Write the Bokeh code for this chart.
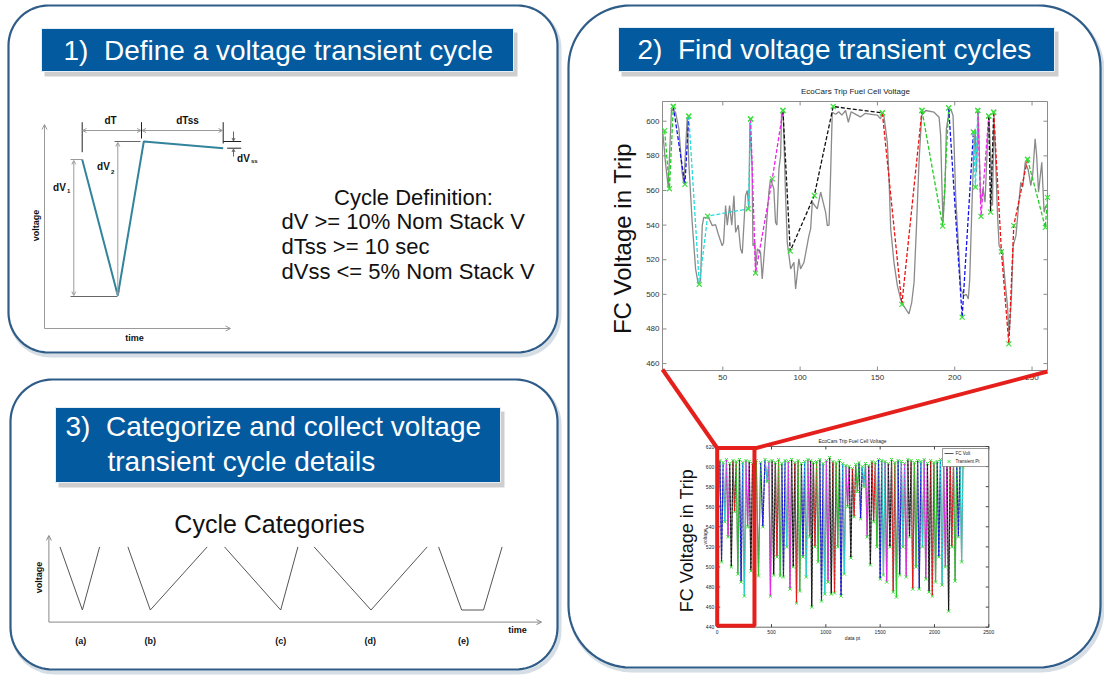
import numpy as np
from bokeh.plotting import figure
from bokeh.models import Range1d, Arrow, OpenHead
from bokeh.embed import file_html
from bokeh.resources import INLINE
from bokeh.core.properties import value

FONT = value("Liberation Sans")
NB = "\u00a0"

# ---------------- data: zoomed trip chart (panel 2, top) ----------------
trip_x = [11, 12.9, 14.7, 16.8, 19.4, 21.6, 23.7, 24.8, 27, 28,
          30.2, 32.4, 34.1, 35.6, 36.7, 37.7, 41, 43.2, 45.3, 47,
          49.6, 50.5, 51.8, 52.9, 54.4, 55.8, 57.2, 58.3, 60, 61.5,
          62.6, 64.7, 65.8, 66.9, 67.5, 68.9, 69.5, 70.8, 71.2, 72.3,
          74.4, 75.5, 77.7, 79.8, 80.9, 83, 84.1, 85, 86.3, 87.4,
          88, 89.1, 90.6, 91.7, 93.9, 96, 97.1, 99.2, 100.3, 102.5,
          105.7, 106.8, 107.9, 111.1, 113.3, 116.5, 117.6, 118.7, 119.7, 120.8,
          123, 125, 127, 129.4, 131.2, 133, 136, 139, 142, 146,
          150, 152, 153.2, 154.2, 156.4, 157.5, 158.6, 160.7, 162.9, 165,
          167.2, 170.4, 172.2, 173.7, 175.2, 176.9, 178.6, 181.2, 186.6, 189.9,
          190.9, 191.6, 192.4, 193.7, 194.6, 196.3, 197.4, 198.9, 199.6, 200.6,
          202.4, 203.9, 206, 207.5, 208.8, 209.7, 211, 212.1, 213.2, 214.1,
          215.2, 216.8, 218.3, 219.6, 221.1, 222.2, 223.3, 224.4, 225.4, 226.5,
          227.6, 228.7, 230.9, 232.6, 234.1, 235.2, 236.7, 237.8, 239.6, 241.3,
          242.7, 244, 245.6, 247.5, 249.2, 250.5, 252, 253, 254.2, 256.3,
          257.8, 258.9]
trip_v = [595.6, 576.3, 561.8, 607.2, 605.2, 595.6, 570.5, 563.8, 602.3, 576.3,
          541.6, 514.7, 506.0, 507.9, 539.7, 544.5, 544.0, 539.7, 540.3, 535.0,
          528.1, 530.0, 551.3, 540.0, 551.3, 540.0, 557.0, 535.8, 540.0, 526.2,
          523.6, 557.0, 560.0, 549.4, 599.4, 575.0, 528.0, 530.0, 514.8, 526.2,
          524.3, 508.9, 533.9, 559.0, 566.7, 561.0, 541.6, 540.0, 572.5, 580.2,
          605.2, 603.3, 557.0, 530.0, 514.7, 518.5, 503.1, 520.5, 514.7, 518.5,
          533.9, 537.8, 553.2, 549.4, 559.0, 547.4, 539.7, 540.0, 568.6, 605.2,
          604.0, 605.5, 603.5, 606.2, 599.4, 605.5, 604.0, 602.5, 604.5, 604.0,
          603.5, 601.4, 605.2, 603.0, 587.9, 566.7, 537.8, 518.5, 505.0, 497.3,
          493.0, 488.7, 495.4, 506.9, 537.8, 576.3, 603.3, 606.2, 605.2, 602.3,
          591.7, 566.7, 541.6, 561.0, 595.6, 605.2, 607.2, 603.3, 586.0, 557.0,
          528.1, 503.1, 499.2, 500.0, 497.3, 508.9, 547.4, 576.3, 595.6, 570.5,
          605.2, 553.2, 561.0, 553.2, 586.0, 603.3, 576.3, 551.3, 603.3, 576.3,
          547.4, 528.1, 524.3, 506.9, 493.5, 476.1, 499.2, 528.1, 533.9, 551.3,
          564.7, 562.0, 576.3, 572.0, 562.8, 570.0, 589.8, 580.0, 559.0, 576.3,
          547.4, 551.3]

cycle_x = [[12.4, 15.5, 18.0],
           [18.0, 25.5, 28.0],
           [28.0, 34.8, 40.2, 66.5, 68.0],
           [68.0, 71.2, 82.0, 88.9],
           [88.9, 93.6, 109.2, 121.4, 153.2],
           [153.2, 165.8, 178.8],
           [178.8, 192.2, 196.1],
           [196.1, 204.8, 212.1],
           [212.1, 213.4, 214.9],
           [214.9, 217.0, 222.0],
           [222.0, 223.2, 225.2],
           [225.2, 230.2, 235.0, 238.2, 247.1],
           [247.1, 258.6, 260.0]]
cycle_v = [[594.6, 561.0, 608.5],
           [608.5, 563.5, 602.9],
           [602.9, 505.8, 545.2, 549.4, 601.3],
           [601.3, 512.3, 566.7, 606.2],
           [606.2, 525.0, 557.1, 608.5, 604.8],
           [604.8, 494.2, 606.2],
           [606.2, 539.4, 607.7],
           [607.7, 486.8, 593.7],
           [593.7, 561.9, 606.2],
           [606.2, 545.0, 603.0],
           [603.0, 547.5, 605.2],
           [605.2, 524.6, 471.4, 539.7, 578.0],
           [578.0, 538.7, 556.0]]
cycle_colors = ["#22cc22", "#1010ee", "#22dddd", "#ee22ee", "#111111", "#ee1111"]
trip_xticks = [50, 100, 150, 200, 250]
trip_yticks = [460, 480, 500, 520, 540, 560, 580, 600]

# ---------------- data: full trip chart (panel 2, bottom) ----------------
full_top_x = [0, 25, 55, 85, 115, 145, 175, 205, 235, 265,
              295, 325, 360, 400, 440, 475, 505, 535, 565, 595,
              625, 655, 685, 715, 745, 775, 805, 835, 860, 885,
              915, 945, 975, 1005, 1035, 1065, 1095, 1125, 1155, 1185,
              1215, 1245, 1275, 1305, 1335, 1365, 1395, 1425, 1455, 1485,
              1515, 1545, 1575, 1605, 1635, 1665, 1695, 1725, 1755, 1785,
              1815, 1845, 1875, 1905, 1935, 1965, 1995, 2025, 2055, 2085,
              2115, 2145, 2175, 2205, 2235, 2262]
full_top_v = [598, 606, 604, 607, 603, 606, 605, 607, 604, 606,
              605, 603, 606, 604, 607, 605, 606, 604, 607, 603,
              606, 605, 607, 604, 606, 603, 605, 607, 606, 604,
              605, 607, 603, 606, 609, 605, 604, 606, 603, 601,
              600, 598, 602, 604, 600, 603, 601, 605, 604, 607,
              606, 605, 603, 607, 604, 606, 605, 603, 607, 606,
              604, 606, 605, 607, 603, 606, 604, 605, 607, 603,
              606, 604, 605, 603, 606, 600]
full_low_x = [10, 40, 70, 100, 130, 160, 190, 220, 250, 280,
              310, 340, 380, 420, 460, 490, 520, 550, 580, 610,
              640, 670, 700, 730, 760, 790, 820, 850, 870, 900,
              930, 960, 990, 1020, 1050, 1080, 1110, 1140, 1170, 1200,
              1230, 1260, 1290, 1320, 1350, 1380, 1410, 1440, 1470, 1500,
              1530, 1560, 1590, 1620, 1650, 1680, 1710, 1740, 1770, 1800,
              1830, 1860, 1890, 1920, 1950, 1980, 2010, 2040, 2070, 2100,
              2130, 2160, 2190, 2220, 2250]
full_low_v = [560, 505, 545, 530, 500, 555, 493, 485, 471, 540,
              496, 560, 491, 540, 585, 471, 492, 510, 491, 490,
              520, 478, 500, 464, 476, 510, 490, 530, 460, 520,
              505, 466, 473, 485, 473, 474, 520, 471, 493, 560,
              509, 550, 575, 548, 580, 530, 502, 545, 520, 488,
              492, 485, 520, 475, 470, 492, 520, 490, 530, 478,
              500, 478, 520, 488, 475, 471, 485, 510, 482, 500,
              456, 520, 486, 530, 505]
full_xticks = [0, 500, 1000, 1500, 2000, 2500]
full_yticks = [440, 460, 480, 500, 520, 540, 560, 580, 600, 620]
zoom_window = [0, 343, 441.5, 618.5]  # left, right, bottom, top (data units)

# ---------------- schematic content ----------------
definition_lines = ["dV >= 10% Nom Stack V", "dTss >= 10 sec", "dVss <= 5% Nom Stack V"]
category_labels = ["(a)", "(b)", "(c)", "(d)", "(e)"]

# ---------------- canvas ----------------
WID, HEI = 1104, 676
X0, X1, Y0, Y1 = 0, WID, 0, HEI
p = figure(width=WID, height=HEI, x_range=Range1d(X0, X1), y_range=Range1d(Y1, Y0),
           x_axis_type=None, y_axis_type=None, toolbar_location=None,
           output_backend="svg", min_border=0, outline_line_color=None,
           background_fill_color="white", border_fill_color="white")
p.min_border_left = p.min_border_right = p.min_border_top = p.min_border_bottom = 0


def sub(name, a, b, T, B, d0, d1, y0, y1):
    kx = (d1 - d0) / (b - a)
    ky = (y1 - y0) / (T - B)
    p.extra_x_ranges[name] = Range1d(d0 + (X0 - a) * kx, d0 + (X1 - a) * kx)
    p.extra_y_ranges[name] = Range1d(y0 + (Y1 - B) * ky, y0 + (Y0 - B) * ky)
    return kx, -ky


def txt(x, y, s, size, color="#111111", align="left", baseline="middle",
        angle=0.0, bold=False, rng=None):
    kw = dict(x_range_name=rng, y_range_name=rng) if rng else {}
    xs = x if isinstance(x, list) else [x]
    ys = y if isinstance(y, list) else [y]
    ss = s if isinstance(s, list) else [s]
    p.text(x=xs, y=ys, text=ss, text_font=FONT, text_font_size=f"{size}px",
           text_color=color, text_align=align, text_baseline=baseline,
           angle=angle, text_font_style="bold" if bold else "normal", **kw)


def rrect(x0, y0, x1, y1, r):
    xs, ys = [], []
    corners = [(x1 - r, y0 + r, -np.pi / 2, 0.0), (x1 - r, y1 - r, 0.0, np.pi / 2),
               (x0 + r, y1 - r, np.pi / 2, np.pi), (x0 + r, y0 + r, np.pi, 1.5 * np.pi)]
    for cx, cy, a0, a1 in corners:
        t = np.linspace(a0, a1, 20)
        xs.extend(list(cx + r * np.cos(t)))
        ys.extend(list(cy + r * np.sin(t)))
    return xs, ys


# panels
for (x0, y0, x1, y1, r) in [(8, 5, 557, 352, 40), (10, 379, 557, 669, 42), (568, 5, 1100, 667, 62)]:
    xs, ys = rrect(x0, y0, x1, y1, r)
    p.patch([v + 2 for v in xs], [v + 3 for v in ys], fill_color=None,
            line_color="#b9c6d3", line_width=4, line_alpha=0.6)
    p.patch(xs, ys, fill_color="white", line_color="#2f5d88", line_width=2.2)

# title boxes
for (l, r_, t, b) in [(41, 513, 28, 71), (618, 1054, 27, 71), (55, 500, 407, 482)]:
    p.quad(left=l + 3, right=r_ + 4, top=t + 4, bottom=b + 5, fill_color="#c2c2c2",
           fill_alpha=0.8, line_color=None)
    p.quad(left=l, right=r_, top=t, bottom=b, fill_color="#045a9e", line_color="#e8eef5",
           line_width=1)
txt(63, 50, "1)" + NB + " Define a voltage transient cycle", 28, color="white")
txt(637, 49, "2)" + NB + " Find voltage transient cycles", 28, color="white")
txt(65, 426, "3)" + NB + " Categorize and collect voltage", 28, color="white")
txt(107, 461, "transient cycle details", 28, color="white")

# ---------------- panel 1 schematic ----------------
ax_col = "#9a9a9a"
p.add_layout(Arrow(end=OpenHead(size=5, line_color=ax_col, line_width=1),
                   x_start=44, y_start=328, x_end=44, y_end=124, line_color=ax_col, line_width=1))
p.add_layout(Arrow(end=OpenHead(size=5, line_color=ax_col, line_width=1),
                   x_start=44, y_start=328, x_end=230, y_end=328, line_color=ax_col, line_width=1))
p.line([81.7, 117.3, 143.3, 222.7], [159, 295, 141, 147.7], line_color="#31849b", line_width=2)
p.segment(x0=[70, 70, 114, 81.7, 141, 222.7, 222.7, 226.7],
          y0=[159, 296, 141, 121.7, 121.7, 121.7, 141, 147.7],
          x1=[82, 117, 140, 81.7, 141, 222.7, 240.7, 240.7],
          y1=[159, 296, 141, 151.7, 138, 143, 141, 147.7],
          line_color=["#999999", "#666666", "#666666", "#222222", "#222222", "#222222", "#222222", "#222222"],
          line_width=1)
for (xa, ya, xb, yb) in [(73.3, 160, 73.3, 295), (117.3, 142, 117.3, 294),
                         (82, 130, 140.5, 130), (141.5, 130, 222, 130)]:
    p.add_layout(Arrow(start=OpenHead(size=4, line_color="#9a9a9a", line_width=1),
                       end=OpenHead(size=4, line_color="#9a9a9a", line_width=1),
                       x_start=xa, y_start=ya, x_end=xb, y_end=yb,
                       line_color="#9a9a9a", line_width=1))
for (xa, ya, xb, yb) in [(233, 131, 233, 140.5), (233, 156, 233, 148.5)]:
    p.add_layout(Arrow(end=OpenHead(size=3, line_color="#666666", line_width=1),
                       x_start=xa, y_start=ya, x_end=xb, y_end=yb, line_color="#666666", line_width=1))
txt(110, 120, "dT", 10, bold=True, align="center")
txt(187, 120, "dTss", 10, bold=True, align="center")
txt(59, 187, "dV", 10, bold=True, align="center")
txt(66.5, 190, "1", 6, bold=True)
txt(103, 166, "dV", 10, bold=True, align="center")
txt(110.5, 171, "2", 6, bold=True)
txt(243, 158, "dV", 10, bold=True, align="center")
txt(250.5, 160, "ss", 6, bold=True)
txt(35, 225, "voltage", 9, bold=True, align="center", angle=np.pi / 2)
txt(134, 337, "time", 9, bold=True, align="center")

txt(413, 197, "Cycle Definition:", 22, align="center")
txt([281, 281, 281], [221, 246, 271], definition_lines, 22)

# ---------------- panel 3 schematic ----------------
p.add_layout(Arrow(end=OpenHead(size=5, line_color="#888888", line_width=1),
                   x_start=48.4, y_start=621.6, x_end=48.4, y_end=535, line_color="#888888", line_width=1))
p.add_layout(Arrow(end=OpenHead(size=5, line_color="#888888", line_width=1),
                   x_start=48.4, y_start=621.6, x_end=541, y_end=621.6, line_color="#888888", line_width=1))
p.multi_line(xs=[[59.5, 81.9, 99.1], [127.4, 149.8, 206.7], [224.0, 280.2, 297.4],
                 [313.6, 370.5, 426.7], [438.1, 461.2, 483.0, 501.6]],
             ys=[[546.4, 609.5, 546.4], [546.4, 609.5, 546.4], [546.4, 609.5, 546.4],
                 [546.4, 609.5, 546.4], [546.4, 609.5, 609.5, 546.4]],
             line_color="#555555", line_width=1)
txt(269, 523, "Cycle Categories", 25, align="center")
txt([80.2, 149.8, 280.2, 369.8, 462.9], [640] * 5, category_labels, 9, bold=True, align="center")
txt(38.8, 577, "voltage", 9, bold=True, align="center", angle=np.pi / 2)
txt(517, 629, "time", 9, bold=True, align="center")

# ---------------- panel 2 top chart ----------------
tkx, tky = sub("top", 662, 1047, 101, 370, 11, 260, 456, 611.4)
R = dict(x_range_name="top", y_range_name="top")
p.quad(left=11, right=260, bottom=456, top=611.4, fill_color="white",
       line_color="#8c8c8c", line_width=1, **R)
p.segment(x0=trip_xticks, y0=[456] * 5, x1=trip_xticks, y1=[456 + 4 * tky] * 5,
          line_color="#8c8c8c", **R)
p.segment(x0=trip_xticks, y0=[611.4] * 5, x1=trip_xticks, y1=[611.4 - 4 * tky] * 5,
          line_color="#8c8c8c", **R)
p.segment(x0=[11] * 8, y0=trip_yticks, x1=[11 + 4 * tkx] * 8, y1=trip_yticks,
          line_color="#8c8c8c", **R)
p.segment(x0=[260] * 8, y0=trip_yticks, x1=[260 - 4 * tkx] * 8, y1=trip_yticks,
          line_color="#8c8c8c", **R)
txt(trip_xticks, [456 - 4 * tky] * 5, [str(t) for t in trip_xticks], 8, color="#333333",
    align="center", baseline="top", rng="top")
txt([11 - 3 * tkx] * 8, trip_yticks, [str(t) for t in trip_yticks], 8, color="#333333",
    align="right", rng="top")
p.line(trip_x, trip_v, line_color="#8a8a8a", line_width=1.3, **R)
p.multi_line(xs=cycle_x, ys=cycle_v,
             line_color=[cycle_colors[i % 6] for i in range(len(cycle_x))],
             line_width=1.3, line_dash="4 2", **R)
mx = [x for c in cycle_x for x in c]
mv = [v for c in cycle_v for v in c]
p.scatter(mx, mv, marker="x", size=7, line_color="#3ee03e", line_width=1.2, **R)
txt(855, 91, "EcoCars Trip Fuel Cell Voltage", 8, color="#222222", align="center")
txt(622, 238, "FC Voltage in Trip", 24, color="#111111", align="center", angle=np.pi / 2)

# ---------------- panel 2 bottom chart ----------------
bkx, bky = sub("bot", 716.7, 988.3, 446, 626.7, 0, 2500, 440, 620)
B = dict(x_range_name="bot", y_range_name="bot")
p.quad(left=0, right=2500, bottom=440, top=620, fill_color="white",
       line_color="#444444", line_width=0.8, **B)
p.segment(x0=full_xticks, y0=[440] * 6, x1=full_xticks, y1=[440 + 3 * bky] * 6, line_color="#444444", **B)
p.segment(x0=full_xticks, y0=[620] * 6, x1=full_xticks, y1=[620 - 3 * bky] * 6, line_color="#444444", **B)
p.segment(x0=[0] * 10, y0=full_yticks, x1=[3 * bkx] * 10, y1=full_yticks, line_color="#444444", **B)
p.segment(x0=[2500] * 10, y0=full_yticks, x1=[2500 - 3 * bkx] * 10, y1=full_yticks, line_color="#444444", **B)
txt(full_xticks, [440 - 3 * bky] * 6, [str(t) for t in full_xticks], 5, color="#222222",
    align="center", baseline="top", rng="bot")
txt([-3 * bkx] * 10, full_yticks, [str(t) for t in full_yticks], 5, color="#222222",
    align="right", rng="bot")
zx, zv = [], []
for i in range(len(full_low_x)):
    zx += [full_top_x[i], full_low_x[i]]
    zv += [full_top_v[i], full_low_v[i]]
zx.append(full_top_x[len(full_low_x)])
zv.append(full_top_v[len(full_low_x)])
p.line(zx, zv, line_color="#7a7a7a", line_width=1.2, **B)
cxs = [[full_top_x[i], full_low_x[i], full_top_x[i + 1]] for i in range(len(full_low_x))]
cvs = [[full_top_v[i], full_low_v[i], full_top_v[i + 1]] for i in range(len(full_low_x))]
p.multi_line(xs=cxs, ys=cvs, line_color=[cycle_colors[i % 6] for i in range(len(cxs))],
             line_width=1, line_dash="3 1", **B)
p.scatter(zx, zv, marker="x", size=4.5, line_color="#3ee03e", line_width=1, **B)
txt(852, 440, "EcoCars Trip Fuel Cell Voltage", 5, color="#222222", align="center")
txt(704, 536, "voltage", 5, color="#222222", align="center", angle=np.pi / 2)
txt(852, 637, "data pt", 5, color="#222222", align="center")
p.quad(left=942, right=988, top=448, bottom=466, fill_color="white", line_color="#555555", line_width=0.6)
p.segment(x0=[944], y0=[453], x1=[953], y1=[453], line_color="#555555", line_width=1)
p.scatter([948.5], [461], marker="x", size=4, line_color="#3ee03e", line_width=1)
txt([955, 955], [453, 461], ["FC Volt", "Transient Pt"], 4.5, color="#222222")
txt(686, 540, "FC Voltage in Trip", 18, color="#111111", align="center", angle=np.pi / 2)

# zoom highlight
p.quad(left=zoom_window[0], right=zoom_window[1], bottom=zoom_window[2], top=zoom_window[3],
       fill_color=None, line_color="#e5201c", line_width=4, **B)
p.segment(x0=[662, 1047], y0=[369, 371], x1=[717, 754], y1=[448, 448],
          line_color="#e5201c", line_width=4)

open("out.html", "w").write(file_html(p, INLINE))
